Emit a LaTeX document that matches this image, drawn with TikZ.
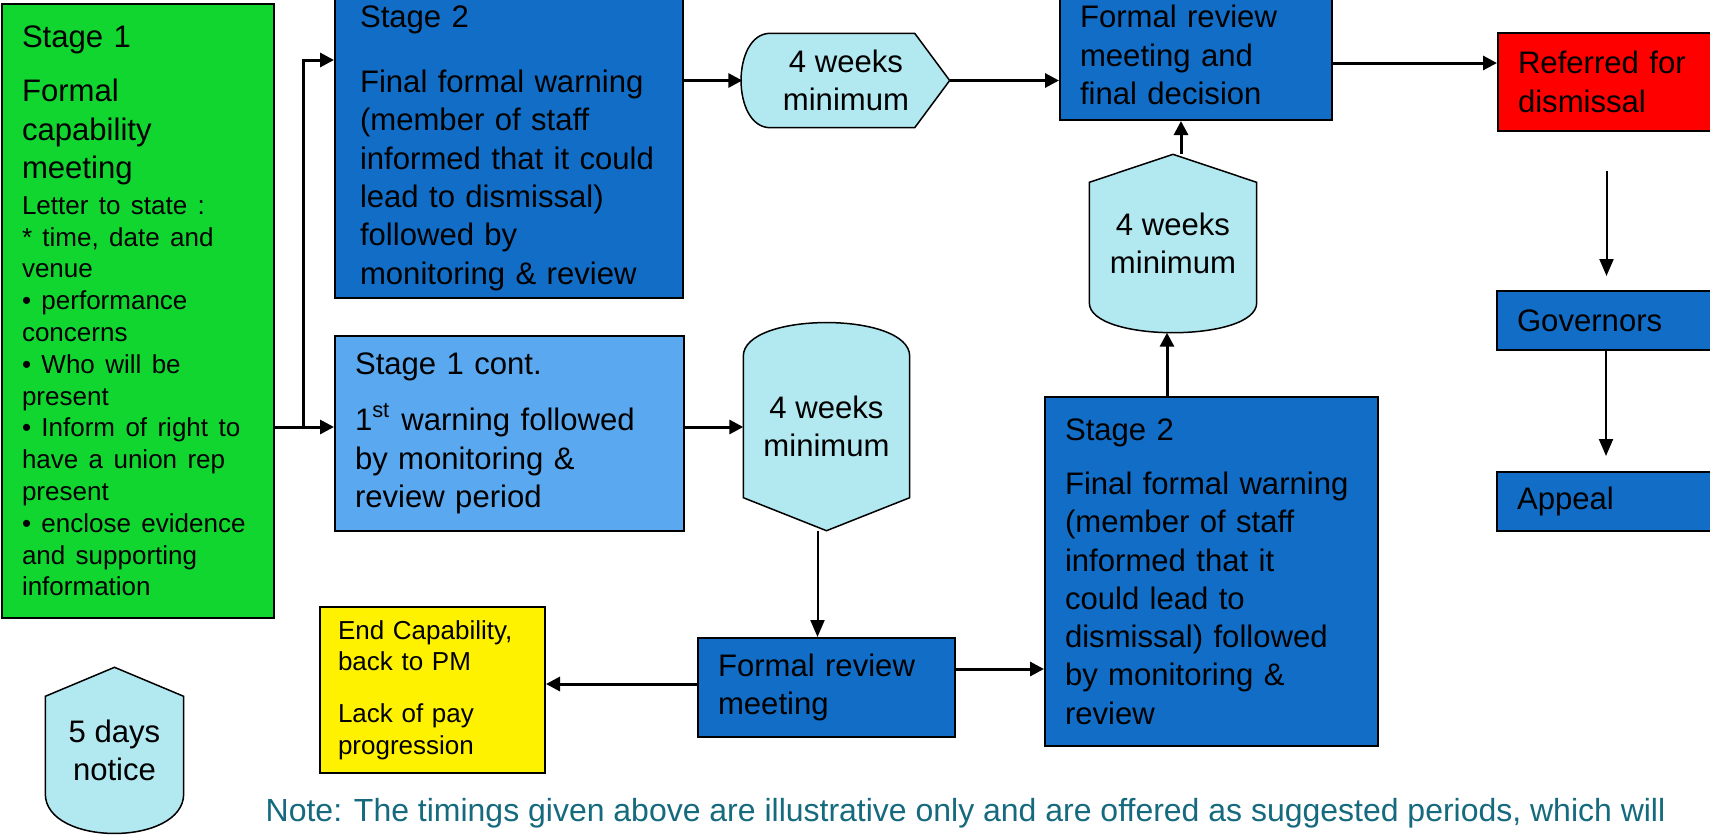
\documentclass[tikz,border=0pt]{standalone}
\usepackage{fontspec}
\setmainfont{Liberation Sans}
\usepackage{xcolor}
\usepackage{tikz}
\usetikzlibrary{calc}
\usetikzlibrary{arrows.meta, backgrounds}

\setlength{\parindent}{0pt}
\newcommand{\bigtxt}{\fontsize{8.85pt}{10.9pt}\selectfont}
\newcommand{\smalltxt}{\fontsize{7.4pt}{9.05pt}\selectfont}

\definecolor{stagegreen}{HTML}{12D630}
\definecolor{stageblue}{HTML}{116DC6}
\definecolor{contblue}{HTML}{5AA9F0}
\definecolor{waitcyan}{HTML}{B2E8F0}
\definecolor{notecol}{HTML}{156A7E}

\begin{document}
\begin{tikzpicture}[x=0.1mm, y=-0.1mm,
	box/.style={draw=black, line width=0.2mm, align=left, inner xsep=2mm, inner ysep=0pt, font=\bigtxt},
	wait/.style={align=center, inner sep=0pt, font=\bigtxt},
	waitshape/.style={fill=waitcyan, draw=black, line width=0.15mm},
	arr/.style={line width=0.3mm, -{Triangle[length=1.4mm, width=1.4mm]}},
	thinarr/.style={line width=0.2mm, -{Triangle[length=1.7mm, width=1.4mm]}}]

\useasboundingbox (0,0) rectangle (1710,836);

% stage boxes
\node[box, fill=stagegreen, text width=23.2mm, minimum height=61.4mm] (stage1) at (138,311)
	{{Stage 1\\[1.6mm]Formal\\capability\\meeting\par}\vspace{0.4mm}%
	{\smalltxt Letter to state :\\{}* time, date and\\venue\\• performance\\concerns\\• Who will be\\present\\• Inform of right to\\have a union rep\\present\\• enclose evidence\\and supporting\\information\par}};
\node[box, fill=stageblue, inner xsep=2.5mm, text width=29.8mm, minimum height=30mm] (stage2a) at (509,148)
	{Stage 2\\[2.7mm]Final formal warning\\(member of staff\\informed that it could\\lead to dismissal)\\followed by\\monitoring \& review};
\node[box, fill=contblue, text width=30.9mm, minimum height=19.5mm] (stage1c) at (509.5,433.5)
	{Stage 1 cont.\\[1.8mm]1\textsuperscript{st} warning followed\\by monitoring \&\\review period};
\node[box, fill=stageblue, text width=23.2mm, minimum height=13mm] (frfinal) at (1196,55)
	{Formal review\\meeting and\\final decision};
\node[box, fill=red, text width=17.7mm, minimum height=9.8mm] (refer) at (1606.5,82)
	{Referred for\\dismissal};
\node[box, fill=stageblue, text width=17.8mm, minimum height=5.9mm] (gov) at (1606,320.5) {Governors};
\node[box, fill=stageblue, text width=17.8mm, minimum height=5.9mm] (appeal) at (1606,501.5) {Appeal};
\node[box, fill=stageblue, text width=21.7mm, minimum height=9.9mm] (frm) at (826.5,687.5)
	{Formal review\\meeting};
\node[box, fill=stageblue, text width=29.3mm, minimum height=34.9mm] (stage2b) at (1211.5,571.5)
	{Stage 2\\[1.6mm]Final formal warning\\(member of staff\\informed that it\\could lead to\\dismissal) followed\\by monitoring \&\\review};
\node[box, fill=yellow, font=\smalltxt, inner xsep=1.8mm, text width=18.9mm, minimum height=16.6mm] (endcap) at (432.5,690)
	{End Capability,\\back to PM\\[2mm]Lack of pay\\progression};

% waiting periods
\node[wait, minimum width=20.6mm, minimum height=9.3mm] (wk1) at (846,80.5) {4 weeks\\minimum};
\node[wait, minimum width=16.6mm, minimum height=17.7mm] (wk3) at (1173,243.5) {4 weeks\\minimum};
\node[wait, minimum width=16.5mm, minimum height=20.7mm] (wk2) at (826.5,426.5) {4 weeks\\minimum};
\node[wait, minimum width=13.7mm, minimum height=16.5mm] (notice) at (114.5,750.5) {5 days\\notice};

\node[anchor=west, inner sep=0pt, text=notecol, font=\fontsize{9.1pt}{11pt}\selectfont] (note) at (265,813)
	{Note: The timings given above are illustrative only and are offered as suggested periods, which will};

\begin{scope}[on background layer]
\fill[white] (0,0) rectangle (1710,836);
\draw[waitshape] ($(wk1.north west)+(28,0)$) -- ($(wk1.north east)+(-35,0)$) -- (wk1.east)
	-- ($(wk1.south east)+(-35,0)$) -- ($(wk1.south west)+(28,0)$)
	.. controls ($(wk1.south west)+(-11,0)$) and ($(wk1.north west)+(-11,0)$) .. cycle;
\draw[waitshape] (wk3.north) -- ($(wk3.north east)+(0,28)$) -- ($(wk3.south east)+(0,-30)$)
	.. controls ($(wk3.south east)+(0,10)$) and ($(wk3.south west)+(0,10)$) .. ($(wk3.south west)+(0,-30)$)
	-- ($(wk3.north west)+(0,28)$) -- cycle;
\draw[waitshape] ($(wk2.north west)+(0,34)$)
	.. controls ($(wk2.north west)+(0,-11)$) and ($(wk2.north east)+(0,-11)$) .. ($(wk2.north east)+(0,34)$)
	-- ($(wk2.south east)+(0,-33)$) -- (wk2.south) -- ($(wk2.south west)+(0,-33)$) -- cycle;
\draw[waitshape] (notice.north) -- ($(notice.north east)+(0,29)$) -- ($(notice.south east)+(0,-40)$)
	.. controls ($(notice.south east)+(0,13)$) and ($(notice.south west)+(0,13)$) .. ($(notice.south west)+(0,-40)$)
	-- ($(notice.north west)+(0,29)$) -- cycle;
\end{scope}

% connectors
\coordinate (split) at (303,427);
\draw[arr] (stage1.east |- split) -- (stage1c.west |- split);
\draw[arr] (split) |- (stage2a.west |- 0,60);
\draw[arr] (stage2a.east |- wk1) -- (wk1.west);
\draw[arr] (wk1.east) -- (frfinal.west |- wk1);
\draw[arr] (frfinal.east |- 0,63) -- (refer.west |- 0,63);
\draw[thinarr, shorten <=3.9mm, shorten >=1.4mm] (refer.south) -- (gov.north -| refer.south);
\draw[thinarr, shorten >=1.5mm] (gov.south) -- (appeal.north -| gov.south);
\draw[arr] (stage1c.east |- split) -- (wk2.west |- split);
\draw[thinarr] ([xshift=-0.9mm]wk2.south) -- ([xshift=-0.9mm]frm.north);
\draw[arr] (frm.east |- 0,669) -- (stage2b.west |- 0,669);
\draw[arr] (frm.west |- 0,684) -- (endcap.east |- 0,684);
\draw[arr] ([xshift=-0.6mm]stage2b.north -| wk3.south) -- ([xshift=-0.6mm]wk3.south);
\draw[arr] ([xshift=0.8mm]wk3.north) -- ([xshift=0.8mm]frfinal.south -| wk3.north);

\end{tikzpicture}
\end{document}
